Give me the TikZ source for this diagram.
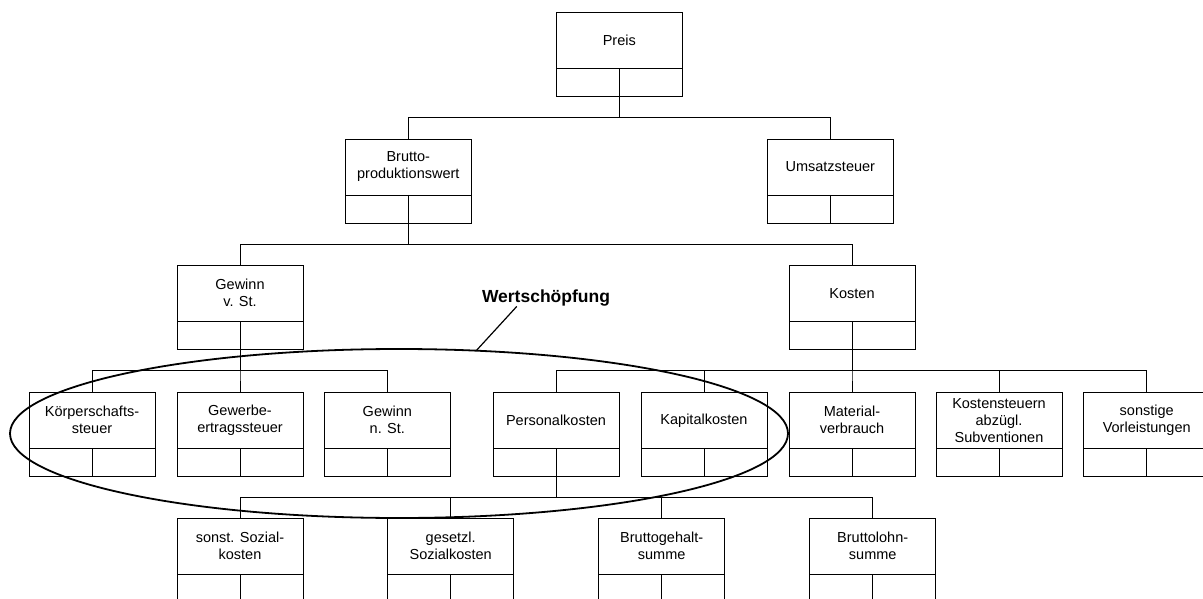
\documentclass[tikz,border=0pt]{standalone}
\usepackage{fontspec}
\setmainfont{Liberation Sans}
\usetikzlibrary{positioning, shapes.geometric, calc}

\tikzset{
  kopf/.style={draw, line width=0.9pt, minimum width=126pt, minimum height=56pt, inner sep=1pt, outer sep=0pt, align=center, font=\fontsize{14.5}{17}\selectfont},
  fuss/.style={draw, line width=0.9pt, minimum width=126pt, minimum height=28pt, inner sep=0pt, outer sep=0pt,
    path picture={\draw[line width=0.9pt] (path picture bounding box.north) -- (path picture bounding box.south);}},
  ast/.style={line width=0.9pt},
}

\begin{document}
\begin{tikzpicture}[x=1pt, y=-1pt]
    \useasboundingbox (0,0) rectangle (1203,599);
    \clip (0,0) rectangle (1203,599);

    % Ebene 1
    \node[kopf] (preis) at (619.3, 40.7) {Preis};
    \node[fuss, below=0pt of preis] (preisU) {};

    % Ebene 2
    \node[kopf] (brutto) at (408.3, 167) {Brutto-\\produktionswert};
    \node[fuss, below=0pt of brutto] (bruttoU) {};
    \node[kopf] (umsatz) at (830.3, 167) {Umsatzsteuer};
    \node[fuss, below=0pt of umsatz] (umsatzU) {};

    % Ebene 3
    \node[kopf] (gewinnV) at (240, 293.3) {Gewinn\\v. St.};
    \node[fuss, below=0pt of gewinnV] (gewinnVU) {};
    \node[kopf] (kosten) at (852, 293.3) {Kosten};
    \node[fuss, below=0pt of kosten] (kostenU) {};

    % Ebene 4
    \node[kopf] (koerp) at (92, 420.3) {Körperschafts-\\steuer};
    \node[fuss, below=0pt of koerp] (koerpU) {};
    \node[kopf] (gewerbe) at (240, 420.3) {Gewerbe-\\ertragssteuer};
    \node[fuss, below=0pt of gewerbe] (gewerbeU) {};
    \node[kopf] (gewinnN) at (387.3, 420.3) {Gewinn\\n. St.};
    \node[fuss, below=0pt of gewinnN] (gewinnNU) {};
    \node[kopf] (personal) at (556, 420.3) {Personalkosten};
    \node[fuss, below=0pt of personal] (personalU) {};
    \node[kopf] (kapital) at (704, 420.3) {Kapitalkosten};
    \node[fuss, below=0pt of kapital] (kapitalU) {};
    \node[kopf] (material) at (852, 420.3) {Material-\\verbrauch};
    \node[fuss, below=0pt of material] (materialU) {};
    \node[kopf] (kostenst) at (999, 420.3) {Kostensteuern\\abzügl.\\Subventionen};
    \node[fuss, below=0pt of kostenst] (kostenstU) {};
    \node[kopf] (sonstige) at (1146.7, 420.3) {sonstige\\Vorleistungen};
    \node[fuss, below=0pt of sonstige] (sonstigeU) {};

    % Ebene 5
    \node[kopf] (sozialS) at (240, 546.3) {sonst. Sozial-\\kosten};
    \node[fuss, below=0pt of sozialS] (sozialSU) {};
    \node[kopf] (sozialG) at (450.7, 546.3) {gesetzl.\\Sozialkosten};
    \node[fuss, below=0pt of sozialG] (sozialGU) {};
    \node[kopf] (gehalt) at (661.7, 546.3) {Bruttogehalt-\\summe};
    \node[fuss, below=0pt of gehalt] (gehaltU) {};
    \node[kopf] (lohn) at (872.7, 546.3) {Bruttolohn-\\summe};
    \node[fuss, below=0pt of lohn] (lohnU) {};

    % Verbindungen
    \draw[ast] (preisU.south) -- ++(0,21) -| (brutto.north);
    \draw[ast] (preisU.south) -- ++(0,21) -| (umsatz.north);

    \draw[ast] (bruttoU.south) -- ++(0,21) -| (gewinnV.north);
    \draw[ast] (bruttoU.south) -- ++(0,21) -| (kosten.north);

    \draw[ast] (gewinnVU.south) -- ++(0,21) -| (koerp.north);
    \draw[ast] (gewinnVU.south) -- ++(0,21) -| (gewerbe.north);
    \draw[ast] (gewinnVU.south) -- ++(0,21) -| (gewinnN.north);

    \draw[ast] (kostenU.south) -- ++(0,21) -| (personal.north);
    \draw[ast] (kostenU.south) -- ++(0,21) -| (kapital.north);
    \draw[ast] (kostenU.south) -- ++(0,21) -| (material.north);
    \draw[ast] (kostenU.south) -- ++(0,21) -| (kostenst.north);
    \draw[ast] (kostenU.south) -- ++(0,21) -| (sonstige.north);

    \draw[ast] (personalU.south) -- ++(0,21) -| (sozialS.north);
    \draw[ast] (personalU.south) -- ++(0,21) -| (sozialG.north);
    \draw[ast] (personalU.south) -- ++(0,21) -| (gehalt.north);
    \draw[ast] (personalU.south) -- ++(0,21) -| (lohn.north);

    % Wertschoepfung
    \node[draw, ellipse, line width=1.8pt, minimum width=778pt, minimum height=169pt, inner sep=0pt, outer sep=0pt] (ws) at (399, 433.5) {};
    \node[inner sep=0pt, font=\bfseries\fontsize{17.5}{20}\selectfont] (wlabel) at (546, 298) {Wertschöpfung};
    \draw[line width=1.2pt] (wlabel.south west) ++(35,0) -- (ws.47.5);

\end{tikzpicture}
\end{document}
